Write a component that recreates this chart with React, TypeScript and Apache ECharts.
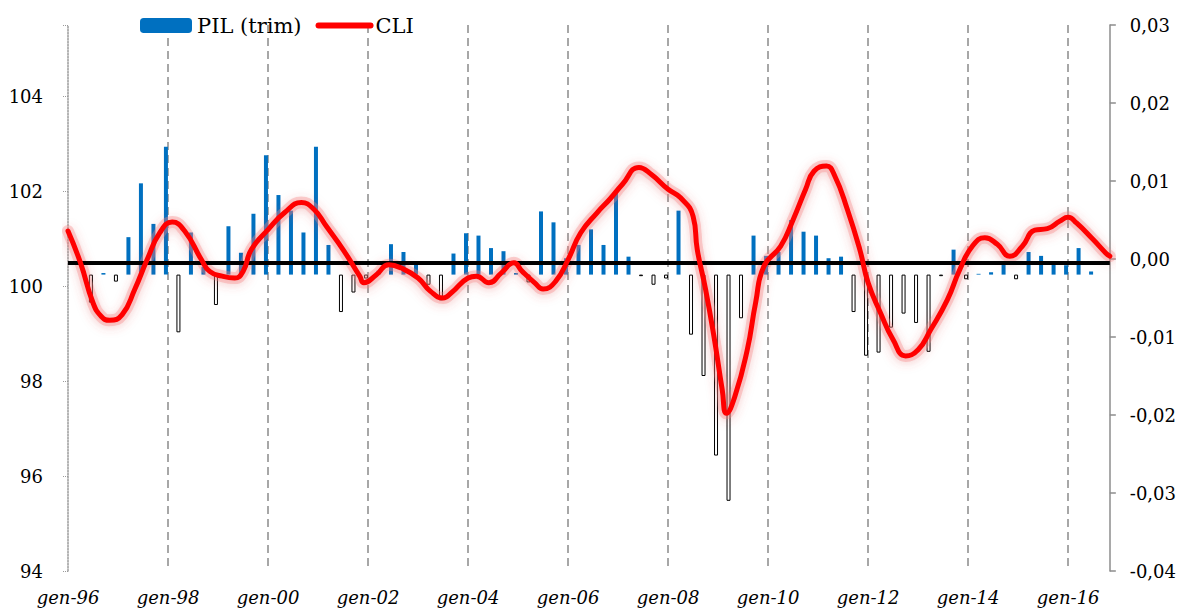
import React, { useEffect, useRef } from "react";
import * as echarts from "echarts";

// Tick labels of the monthly time axis (one every 24 months from gen-96)
const xTickLabels = ["gen-96", "gen-98", "gen-00", "gen-02", "gen-04", "gen-06", "gen-08", "gen-10", "gen-12", "gen-14", "gen-16"];

// PIL (trim): quarterly GDP growth, from 1996 Q1 to 2016 Q3 (right axis)
const pilQuarterly = [
  0, 0, -0.0036, 0.0002, -0.0009, 0.0048, 0.0117, 0.0065, 0.0164, -0.0074,
  0.0054, 0.001, -0.0039, 0.0062, 0.0028, 0.0078, 0.0153, 0.0102, 0.0082, 0.0054,
  0.0164, 0.0038, -0.0048, -0.0023, -0.0005, 0.0005, 0.0039, 0.0029, 0.0013, -0.0013,
  -0.0033, 0.0027, 0.0053, 0.005, 0.0034, 0.003, 0.0002, -0.001, 0.0081, 0.0067,
  0.0021, 0.0038, 0.0058, 0.0038, 0.0107, 0.0023, -0.0002, -0.0013, -0.0005, 0.0082,
  -0.0077, -0.013, -0.0232, -0.029, -0.0056, 0.005, 0.0024, 0.0029, 0.007, 0.0055,
  0.005, 0.0021, 0.0023, -0.0048, -0.0104, -0.01, -0.0068, -0.005, -0.0062, -0.0099,
  -0.0002, 0.0032, -0.0006, 0.0001, 0.0003, 0.0013, -0.0006, 0.0029, 0.0024, 0.0013,
  0.0012, 0.0034, 0.0004,
];

// CLI: [month index from gen-96, index value] (left axis)
const cliPoints: [number, number][] = [
  [0, 101.16], [3, 100.49], [6, 99.65], [8, 99.36], [10, 99.28], [13, 99.4], [16, 99.93],
  [19, 100.56], [22, 101.12], [25, 101.35], [28, 101.16], [32, 100.56], [34, 100.31],
  [37, 100.21], [40, 100.17], [42, 100.31], [44, 100.77], [48, 101.19], [52, 101.55],
  [56, 101.76], [59, 101.62], [62, 101.26], [66, 100.77], [70, 100.21], [71, 100.07],
  [74, 100.24], [77, 100.45], [80, 100.38], [84, 100.17], [87, 99.89], [90, 99.75],
  [92, 99.86], [96, 100.17], [98, 100.21], [101, 100.07], [104, 100.28], [107, 100.49],
  [109, 100.31], [112, 100.07], [114, 99.94], [117, 100.1], [120, 100.56], [123, 101.12],
  [127, 101.55], [130, 101.83], [133, 102.14], [137, 102.5], [140, 102.35], [144, 102.04],
  [147, 101.86], [150, 101.47], [151, 100.77], [153, 99.93], [155, 98.94], [157, 97.81],
  [158, 97.32], [160, 97.67], [163, 98.66], [165, 99.65], [167, 100.42], [171, 100.84],
  [174, 101.4], [177, 102.04], [179, 102.42], [182, 102.53], [184, 102.32], [187, 101.62],
  [190, 100.77], [192, 100.07], [195, 99.43], [198, 98.87], [201, 98.53], [204, 98.66],
  [207, 99.08], [211, 99.71], [214, 100.35], [217, 100.84], [220, 101.02], [223, 100.88],
  [226, 100.63], [229, 100.84], [232, 101.18], [235, 101.21], [238, 101.37], [240, 101.45],
  [242, 101.33], [246, 100.98], [249, 100.7], [250, 100.63],
];

// Level (left axis) of the black horizontal reference line
const referenceLevel = 100.5;

const FONT = "DejaVu Serif";

export default function App() {
  const ref = useRef<HTMLDivElement>(null);

  useEffect(() => {
    if (!ref.current) return;
    const chart = echarts.init(ref.current, undefined, { renderer: "svg" });

    const barData = pilQuarterly.map((v, k) => {
      const pos = 3 * k - 0.5;
      if (v < 0) {
        return {
          value: [pos, v],
          itemStyle: { color: "#ffffff", borderColor: "#000000", borderWidth: 1 },
        };
      }
      return { value: [pos, v] };
    });

    const option: any = {
      animation: false,
      backgroundColor: "#ffffff",
      textStyle: { fontFamily: FONT },
      legend: {
        left: 135,
        top: 10,
        itemWidth: 52,
        itemHeight: 15,
        itemGap: 14,
        data: [
          { name: "PIL (trim)" },
          {
            name: "CLI",
            itemStyle: { opacity: 0 },
            lineStyle: { width: 6, color: "#FF0000", cap: "round", shadowBlur: 0 },
          },
        ],
        textStyle: { fontFamily: FONT, fontSize: 21, color: "#000" },
      },
      grid: { left: 68, right: 67, top: 25, bottom: 37 },
      xAxis: {
        type: "value",
        min: 0,
        max: 250,
        interval: 24,
        axisLine: { show: false },
        axisTick: { show: false },
        axisLabel: {
          fontFamily: FONT,
          fontStyle: "italic",
          fontSize: 18,
          color: "#000",
          margin: 17,
          formatter: (v: number) => (v % 24 === 0 ? xTickLabels[v / 24] ?? "" : ""),
        },
        splitLine: {
          show: true,
          showMinLine: false,
          showMaxLine: false,
          lineStyle: { type: [8, 5], color: "#8a8a8a", width: 1.5 },
        },
      },
      yAxis: [
        {
          type: "value",
          position: "left",
          min: 94,
          max: 105.5,
          interval: 2,
          axisLine: { show: true, lineStyle: { type: "dotted", color: "#9a9a9a", width: 1.5 } },
          axisTick: { show: true, length: 5, lineStyle: { type: "dotted", color: "#9a9a9a" } },
          axisLabel: {
            fontFamily: FONT,
            fontSize: 18,
            color: "#000",
            margin: 25,
            formatter: (v: number) => (Math.abs(v % 2) < 1e-9 ? String(v) : ""),
          },
          splitLine: { show: false },
        },
        {
          type: "value",
          position: "right",
          min: -0.04,
          max: 0.03,
          interval: 0.01,
          axisLine: { show: true, lineStyle: { color: "#8c8c8c", width: 1.5 } },
          axisTick: { show: true, length: 6, lineStyle: { color: "#8c8c8c", width: 1.5 } },
          axisLabel: {
            fontFamily: FONT,
            fontSize: 18,
            color: "#000",
            margin: 20,
            formatter: (v: number) => v.toFixed(2).replace(".", ",").replace("-0,00", "0,00"),
          },
          splitLine: { show: false },
        },
        {
          type: "value",
          show: false,
          min: -0.038,
          max: 0.032,
        },
      ],
      series: [
        {
          name: "PIL (trim)",
          type: "bar",
          xAxisIndex: 0,
          yAxisIndex: 2,
          barWidth: 4,
          itemStyle: { color: "#0070C0" },
          data: barData,
          z: 2,
        },
        {
          name: "reference",
          type: "line",
          xAxisIndex: 0,
          yAxisIndex: 0,
          data: [],
          z: 3,
          markLine: {
            silent: true,
            symbol: "none",
            label: { show: false },
            lineStyle: { color: "#000", width: 4, type: "solid" },
            data: [{ yAxis: referenceLevel }],
          },
        },
        {
          name: "CLI-glow",
          type: "line",
          xAxisIndex: 0,
          yAxisIndex: 0,
          smooth: 0.5,
          symbol: "none",
          showSymbol: false,
          silent: true,
          lineStyle: {
            color: "rgba(245,130,130,0.35)",
            width: 12,
            cap: "round",
            join: "round",
            shadowColor: "rgba(220,70,70,0.65)",
            shadowBlur: 10,
            shadowOffsetY: 2,
          },
          data: cliPoints,
          z: 4,
        },
        {
          name: "CLI",
          type: "line",
          xAxisIndex: 0,
          yAxisIndex: 0,
          smooth: 0.5,
          symbol: "none",
          showSymbol: false,
          lineStyle: {
            color: "#FF0000",
            width: 5,
            cap: "round",
            join: "round",
          },
          itemStyle: { color: "#FF0000" },
          data: cliPoints,
          z: 5,
        },
      ],
    };

    chart.setOption(option);
    return () => chart.dispose();
  }, []);

  return (
    <div
      ref={ref}
      style={{ position: "absolute", left: 0, top: 0, width: 1179, height: 608 }}
    />
  );
}
